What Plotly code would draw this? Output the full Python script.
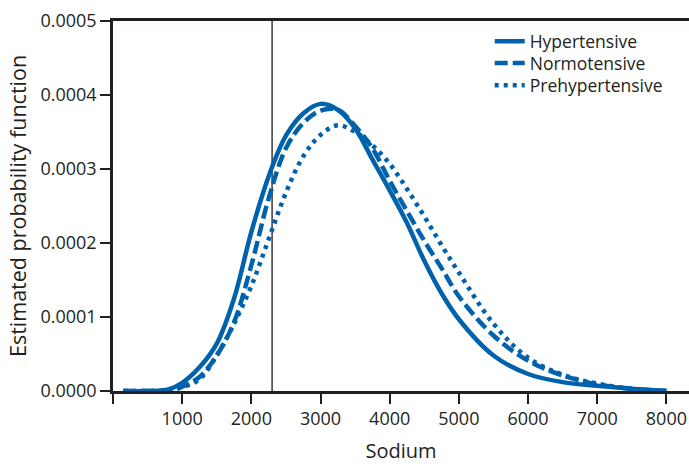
import plotly.graph_objects as go

# Sodium values (x) at which each curve was read
sodium = [150, 500, 800, 1000, 1250, 1500, 1750, 2000, 2250, 2500, 2750, 3000,
          3250, 3500, 3750, 4000, 4250, 4500, 4750, 5000, 5500, 6000, 6500,
          7000, 7500, 8000]

hypertensive = [0, 0, 2e-6, 1.1e-5, 3.2e-5, 6.4e-5, 1.25e-4, 2.15e-4, 2.9e-4,
                3.45e-4, 3.75e-4, 3.88e-4, 3.80e-4, 3.55e-4, 3.13e-4, 2.71e-4,
                2.27e-4, 1.76e-4, 1.32e-4, 9.7e-5, 4.8e-5, 2.3e-5, 1.2e-5,
                7e-6, 3e-6, 0]

normotensive = [0, 0, 1e-6, 6e-6, 1.9e-5, 4.8e-5, 9.3e-5, 1.70e-4, 2.6e-4,
                3.28e-4, 3.62e-4, 3.79e-4, 3.80e-4, 3.58e-4, 3.28e-4, 2.84e-4,
                2.43e-4, 2.03e-4, 1.66e-4, 1.28e-4, 7.5e-5, 4.1e-5, 2.1e-5,
                9e-6, 3e-6, 0]

prehypertensive = [0, 0, 1e-6, 5e-6, 1.6e-5, 4.8e-5, 9.1e-5, 1.42e-4, 2.05e-4,
                   2.68e-4, 3.17e-4, 3.46e-4, 3.59e-4, 3.50e-4, 3.32e-4, 3.07e-4,
                   2.73e-4, 2.36e-4, 1.97e-4, 1.60e-4, 9.1e-5, 4.5e-5, 2.2e-5,
                   1.0e-5, 3e-6, 0]

series_names = ["Hypertensive", "Normotensive", "Prehypertensive"]
x_tickvals = [0, 1000, 2000, 3000, 4000, 5000, 6000, 7000, 8000]
x_ticktext = ["", "1000", "2000", "3000", "4000", "5000", "6000", "7000", "8000"]
y_tickvals = [0, 0.0001, 0.0002, 0.0003, 0.0004, 0.0005]
y_ticktext = ["0.0000", "0.0001", "0.0002", "0.0003", "0.0004", "0.0005"]
sodium_limit = 2300

BLUE = "#0062AC"
INK = "#231F20"
FONT = "Open Sans"

fig = go.Figure()
dashes = ["solid", "13px,5px", "4px,5px"]
legend_ids = ["legend", "legend2", "legend3"]
for name, vals, dash, lg in zip(series_names, [hypertensive, normotensive, prehypertensive],
                                dashes, legend_ids):
    fig.add_trace(go.Scatter(
        x=sodium, y=vals, name=name, mode="lines", legend=lg,
        line=dict(color=BLUE, width=4.5, dash=dash, shape="spline", smoothing=1.0),
    ))

fig.add_shape(type="line", x0=sodium_limit, x1=sodium_limit, y0=0, y1=1,
              xref="x", yref="paper", line=dict(color="#3a3a3a", width=1.5),
              layer="below")

legend_common = dict(x=0.654, xanchor="left", yanchor="middle",
                     bgcolor="rgba(0,0,0,0)", font=dict(size=17.5, color=INK),
                     itemwidth=30, borderwidth=0)

fig.update_layout(
    width=689, height=464,
    margin=dict(l=113, r=0, t=21, b=73),
    paper_bgcolor="white", plot_bgcolor="white",
    font=dict(family=FONT, size=18, color=INK),
    showlegend=True,
    legend=dict(y=0.945, **legend_common),
    legend2=dict(y=0.886, **legend_common),
    legend3=dict(y=0.826, **legend_common),
    xaxis=dict(
        range=[0, 8327], tickvals=x_tickvals, ticktext=x_ticktext,
        ticks="outside", ticklen=10, tickwidth=2, tickcolor=INK,
        showline=True, linecolor=INK, linewidth=2.5, mirror=True,
        showgrid=False, zeroline=False,
        title=dict(text="Sodium", font=dict(size=20, color=INK), standoff=28),
        automargin=False,
    ),
    yaxis=dict(
        range=[0, 0.0005], tickvals=y_tickvals, ticktext=y_ticktext,
        ticks="outside", ticklen=10, tickwidth=2, tickcolor=INK,
        showline=True, linecolor=INK, linewidth=2.5,
        showgrid=False, zeroline=False,
        title=dict(text="Estimated probability function", font=dict(size=21.5, color=INK), standoff=8),
        automargin=False,
    ),
)

fig.write_html(
    "out.html",
    config={"displayModeBar": False},
    post_script="document.body.style.margin='0';document.body.style.overflow='hidden';",
)
